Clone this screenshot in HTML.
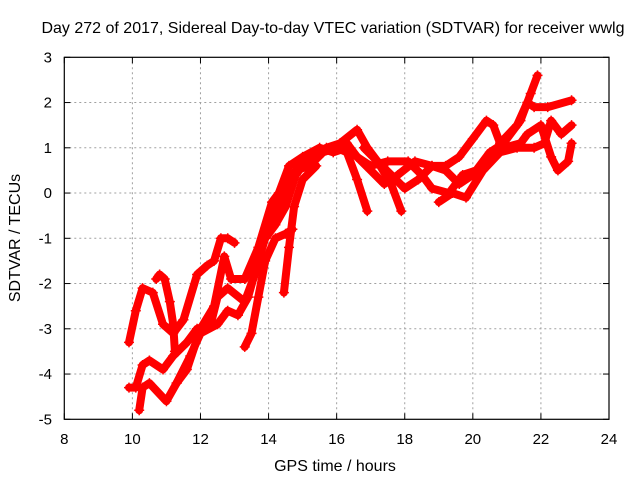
<!DOCTYPE html>
<html><head><meta charset="utf-8"><style>
body{margin:0;background:#fff}
svg{display:block;font-family:"Liberation Sans",sans-serif}
</style></head><body>
<svg id="chart" width="640" height="480" viewBox="0 0 640 480">
<text x="333" y="33" font-size="16" text-anchor="middle">Day 272 of 2017, Sidereal Day-to-day VTEC variation (SDTVAR) for receiver wwlg</text>
<text x="335" y="471" font-size="16" text-anchor="middle">GPS time / hours</text>
<text transform="translate(20,238) rotate(-90)" font-size="16" text-anchor="middle">SDTVAR / TECUs</text>
<g id="grid"></g><g id="series"></g>
<rect x="64.3" y="57.3" width="544.7" height="362" fill="none" stroke="#000" stroke-width="1.2"/>
</svg>
<script>
const xTicks=[8,10,12,14,16,18,20,22,24];
const yTicks=[3,2,1,0,-1,-2,-3,-4,-5];
const sA_x=[9.9,10.1,10.3,10.6,10.9,11.2,11.5,11.9,12.2,12.4,12.6,12.8,13.0];
const sA_y=[-3.3,-2.6,-2.1,-2.2,-2.9,-3.1,-2.8,-1.8,-1.6,-1.5,-1.0,-1.0,-1.1];
const sB_x=[10.7,10.8,10.95,11.1,11.2,11.25];
const sB_y=[-1.9,-1.8,-1.9,-2.4,-2.9,-3.5];
const sC_x=[9.9,10.1,10.3,10.5,10.9,11.2,11.6,11.9,12.3,12.5,12.8,13.3,13.6,13.9,14.2,14.6,15.0,15.5,16.0,16.3,16.6,17.0,17.4,17.8,18.3,18.8,19.2,19.6,20.0,20.4,20.6,20.8,21.3,21.6,21.8,22.2,22.9];
const sC_y=[-4.3,-4.3,-3.8,-3.7,-3.9,-3.6,-3.3,-3.0,-2.9,-2.3,-2.1,-2.4,-1.8,-0.9,-0.4,0.3,0.7,0.9,1.0,1.1,0.8,0.5,0.2,0.4,0.7,0.6,0.6,0.8,1.2,1.6,1.5,1.1,1.5,2.0,1.9,1.9,2.05];
const sD_x=[10.2,10.3,10.5,11.0,11.3,11.7,12.0,12.5,12.8,13.1,13.4,13.7,13.9,14.2,14.5,14.8,15.2,15.7,16.1,16.6,16.9,17.2,17.6,18.0,18.4,18.8,19.2,19.6,20.0,20.5,20.9,21.4,21.7,21.9];
const sD_y=[-4.8,-4.3,-4.2,-4.6,-4.2,-3.6,-3.1,-2.9,-2.6,-2.7,-2.3,-1.5,-1.0,-0.7,-0.3,0.4,0.8,1.0,1.1,1.4,1.0,0.7,0.4,0.1,0.3,0.6,0.5,0.2,0.4,0.9,1.1,1.6,2.2,2.6];
const sE_x=[11.3,11.6,12.0,12.4,12.7,12.9,13.3,13.7,14.1,14.3,14.6,15.0,15.5,15.9,16.3,16.6,17.0,17.5,18.1,18.5,18.8,19.3,19.7,20.1,20.5,20.9,21.4,21.6,22.0,22.3,22.5,22.8,22.9];
const sE_y=[-4.2,-3.9,-3.0,-2.5,-1.4,-1.9,-1.9,-1.2,-0.2,0.0,0.6,0.8,1.0,0.9,1.0,0.8,0.6,0.7,0.7,0.4,0.1,0.0,0.4,0.5,0.7,1.0,1.1,1.3,1.5,0.8,0.5,0.7,1.1];
const sF_x=[13.3,13.5,13.7,13.9,14.2,14.5,14.7];
const sF_y=[-3.4,-3.1,-2.3,-1.5,-1.0,-0.9,-0.8];
const sG_x=[14.45,14.6,14.75,15.0,15.4];
const sG_y=[-2.2,-1.2,-0.3,0.3,0.6];
const sH_x=[14.0,14.4,14.8,15.2,15.6,16.0,16.3,16.6,16.9];
const sH_y=[-0.9,-0.2,0.5,0.6,0.9,1.0,0.9,0.3,-0.4];
const sI_x=[16.8,17.2,17.6,17.9];
const sI_y=[1.0,0.7,0.2,-0.4];
const sJ_x=[19.0,19.4,19.8,20.3,20.8,21.3,21.8,22.1,22.3,22.6,22.9];
const sJ_y=[-0.2,0.0,-0.1,0.5,0.9,1.0,1.0,1.1,1.6,1.3,1.5];
const seriesX=[sA_x,sB_x,sC_x,sD_x,sE_x,sF_x,sG_x,sH_x,sI_x,sJ_x];
const seriesY=[sA_y,sB_y,sC_y,sD_y,sE_y,sF_y,sG_y,sH_y,sI_y,sJ_y];
const L=64.3,R=609,T=57.3,B=419.3;
function xs(v){return L+(v-8)/16*(R-L);}
function ys(v){return T+(3-v)/8*(B-T);}
const NS="http://www.w3.org/2000/svg";
const svg=document.getElementById('chart'),g=document.getElementById('grid'),sg=document.getElementById('series');
function mk(t,a,p){const e=document.createElementNS(NS,t);for(const k in a)e.setAttribute(k,a[k]);p.appendChild(e);return e;}
xTicks.forEach(v=>{const x=xs(v);
 if(v>8&&v<24){const l=mk('line',{x1:x,x2:x,y1:T,y2:B,stroke:'#a0a0a0','stroke-dasharray':'2,3'},g);
 
 }
 mk('line',{x1:x,x2:x,y1:B,y2:B-6,stroke:'#000'},g);mk('line',{x1:x,x2:x,y1:T,y2:T+6,stroke:'#000'},g);
 const t=mk('text',{x:x,y:444,'font-size':15,'text-anchor':'middle'},g);t.textContent=v;
 
 });
yTicks.forEach(v=>{const y=ys(v);
 if(v>-5&&v<3){const l=mk('line',{x1:L,x2:R,y1:y,y2:y,stroke:'#a0a0a0','stroke-dasharray':'2,3'},g);
 
 }
 mk('line',{x1:L,x2:L+6,y1:y,y2:y,stroke:'#000'},g);mk('line',{x1:R,x2:R-6,y1:y,y2:y,stroke:'#000'},g);
 const t=mk('text',{x:52,y:y+5,'font-size':15,'text-anchor':'end'},g);t.textContent=v;
 
 });
seriesX.forEach((X,i)=>{const Y=seriesY[i];
 const pts=X.map((v,j)=>xs(v).toFixed(1)+','+ys(Y[j]).toFixed(1)).join(' ');
 const p=mk('polyline',{points:pts,fill:'none',stroke:'#ff0000','stroke-width':8,'stroke-linejoin':'round','stroke-linecap':'round'},sg);
 
 
 X.forEach((v,j)=>{const x=xs(v),y=ys(Y[j]);
  const m=mk('path',{d:`M${x-5},${y}h10M${x},${y-5}v10`,stroke:'#ff0000','stroke-width':1.5},sg);
  
  });
});
</script>
</body></html>
